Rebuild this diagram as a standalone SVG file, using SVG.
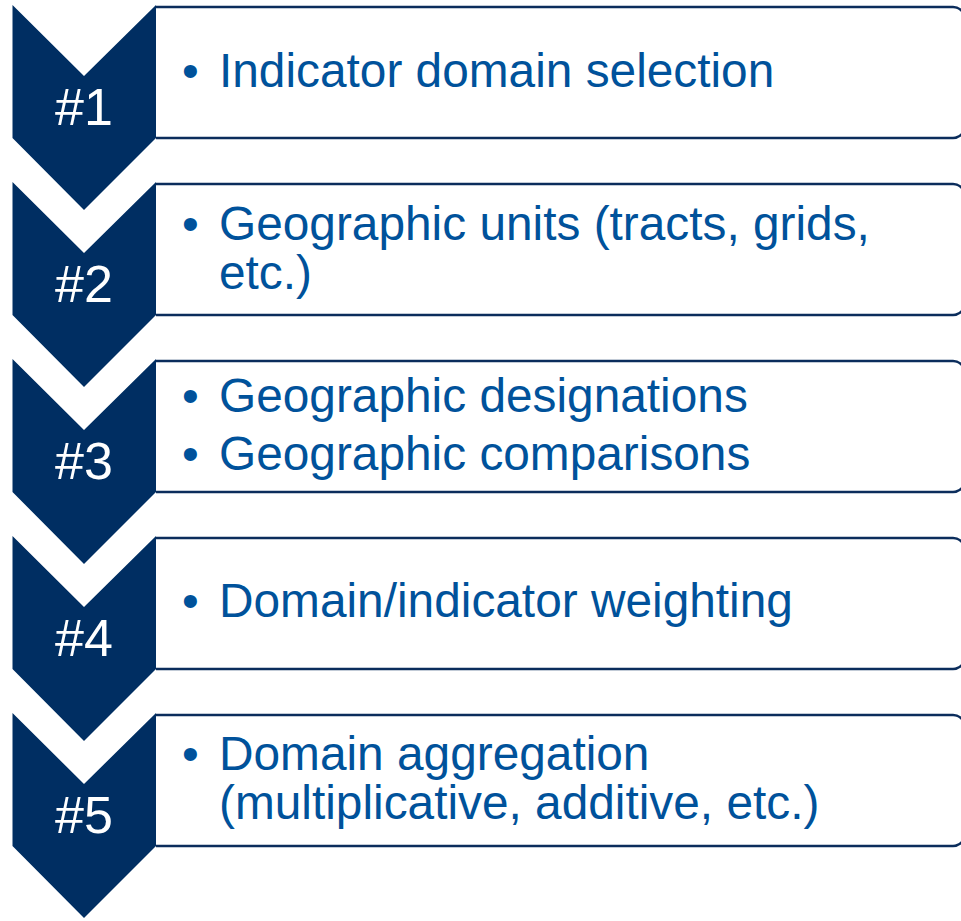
<svg xmlns="http://www.w3.org/2000/svg" width="961" height="921" viewBox="0 0 961 921">
<defs>
<style>
.box{fill:#ffffff;stroke:#0b2d5c;stroke-width:2.5}
.chev{fill:#002e62}
.num{font-family:"Liberation Sans",Arial,sans-serif;font-size:52px;fill:#ffffff;text-anchor:middle}
.txt{font-family:"Liberation Sans",Arial,sans-serif;font-size:47.8px;fill:#00529b}
</style>
<path id="boxshape" d="M156,0 H953 A12,12 0 0 1 965,12 V119 A12,12 0 0 1 953,131 H156"/>
<path id="chevshape" d="M12.5,0 L84,71 L156,0 L156,133 L84,205 L12.5,133 Z"/>
</defs>
<g id="connectors"></g>
<g id="step1" transform="translate(0,5)">
<use href="#boxshape" class="box" transform="translate(0,2)"/>
<use href="#chevshape" class="chev"/>
<text class="num" x="84" y="120">#1</text>
<text class="txt" x="182" y="82">•</text>
<text class="txt" x="219" y="82">Indicator domain selection</text>
</g>
<g id="step2" transform="translate(0,182)">
<use href="#boxshape" class="box" transform="translate(0,2)"/>
<use href="#chevshape" class="chev"/>
<text class="num" x="84" y="120">#2</text>
<text class="txt" x="182" y="58">•</text>
<text class="txt" x="219" y="58">Geographic units (tracts, grids,</text>
<text class="txt" x="219" y="107">etc.)</text>
</g>
<g id="step3" transform="translate(0,359)">
<use href="#boxshape" class="box" transform="translate(0,2)"/>
<use href="#chevshape" class="chev"/>
<text class="num" x="84" y="120">#3</text>
<text class="txt" x="182" y="53">•</text>
<text class="txt" x="219" y="53">Geographic designations</text>
<text class="txt" x="182" y="111">•</text>
<text class="txt" x="219" y="111">Geographic comparisons</text>
</g>
<g id="step4" transform="translate(0,536)">
<use href="#boxshape" class="box" transform="translate(0,2)"/>
<use href="#chevshape" class="chev"/>
<text class="num" x="84" y="120">#4</text>
<text class="txt" x="182" y="81">•</text>
<text class="txt" x="219" y="81">Domain/indicator weighting</text>
</g>
<g id="step5" transform="translate(0,713)">
<use href="#boxshape" class="box" transform="translate(0,2)"/>
<use href="#chevshape" class="chev"/>
<text class="num" x="84" y="120">#5</text>
<text class="txt" x="182" y="57">•</text>
<text class="txt" x="219" y="57">Domain aggregation</text>
<text class="txt" x="219" y="106">(multiplicative, additive, etc.)</text>
</g>
</svg>
